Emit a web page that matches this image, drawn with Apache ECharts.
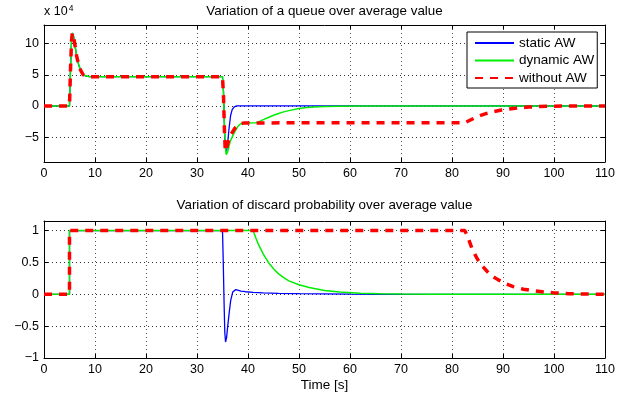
<!DOCTYPE html>
<html>
<head>
<meta charset="utf-8">
<script src="https://cdn.jsdelivr.net/npm/echarts@6/dist/echarts.min.js"></script>
<style>html,body{margin:0;padding:0;background:#fff}#c{width:639px;height:395px}</style>
</head>
<body>
<div id="c"></div>
<script>
// ---- tick labels / axis settings (data units) ----
const xTicks = [0,10,20,30,40,50,60,70,80,90,100,110];
const queueTicks = [-5, 0, 5, 10];          // x 10^4
const probTicks = [-1, -0.5, 0, 0.5, 1];
const seriesNames = ['static AW', 'dynamic AW', 'without AW'];

// ---- Queue variation (units of 10^4) ----
const qStaticT  = [0,5,5.2,5.4,5.55,5.8,6.1,6.4,6.8,7.2,7.7,8.3,9,35,35.2,35.35,35.5,35.65,35.85,36.05,36.3,36.6,36.9,37.3,37.8,110];
const qStaticV  = [0,0,6,10.5,11.7,11.2,9.6,8.0,6.6,5.7,5.0,4.8,4.7,4.7,2.2,-2.5,-6.2,-7.3,-6.9,-5.6,-3.5,-1.5,-0.6,-0.15,0,0];
const qDynamicT = [0,5,5.2,5.4,5.55,5.8,6.1,6.4,6.8,7.2,7.7,8.3,9,35,35.2,35.4,35.7,36.0,36.5,37.0,37.5,38.0,38.5,39.3,41.5,42,43,44,45,46,47,48,50,52,55,58,62,110];
const qDynamicV = [0,0,6,10.5,11.7,11.2,9.6,8.0,6.6,5.7,5.0,4.8,4.7,4.7,2.0,-4.0,-7.8,-7.4,-5.7,-4.8,-4.0,-3.3,-2.9,-2.72,-2.7,-2.6,-2.2,-1.85,-1.5,-1.2,-0.95,-0.75,-0.4,-0.22,-0.1,-0.04,0,0];
const qWithoutT = [0,5,5.2,5.4,5.55,5.8,6.1,6.4,6.8,7.2,7.7,8.3,9,35,35.2,35.4,35.55,35.8,36.2,36.7,37.5,38.3,39.3,82.5,83.5,84.5,85.5,86.8,88,89.7,91,93,95,97,100,104,110];
const qWithoutV = [0,0,6,10.5,11.7,11.2,9.6,8.0,6.6,5.7,5.0,4.8,4.7,4.7,1.5,-4.5,-7.3,-6.8,-5.5,-4.5,-3.5,-2.9,-2.72,-2.7,-2.3,-1.9,-1.55,-1.2,-0.95,-0.65,-0.5,-0.3,-0.18,-0.1,-0.04,0,0];

// ---- Discard probability variation ----
const pStaticT  = [0,5,5,35,35.15,35.3,35.45,35.6,35.8,36.0,36.3,36.6,37.0,37.3,37.6,38,38.6,39.5,41,43,46,50,55,60,66,110];
const pStaticV  = [0,0,1,1,0.5,-0.1,-0.6,-0.75,-0.68,-0.52,-0.3,-0.1,0.035,0.065,0.073,0.065,0.05,0.04,0.03,0.022,0.015,0.009,0.005,0.002,0,0];
const pDynamicT = [0,5,5,41,41.5,42,43,44,45,46,47,48,50,52,55,58,62,66,70,76,110];
const pDynamicV = [0,0,1,1,0.89,0.79,0.63,0.5,0.4,0.32,0.26,0.21,0.15,0.105,0.06,0.035,0.017,0.008,0.003,0,0];
const pWithoutT = [0,5,5,82.5,83,83.5,84,85,86,87,88,89,90,92,94,96,98,100,103,106,110];
const pWithoutV = [0,0,1,1,0.92,0.81,0.7,0.55,0.44,0.35,0.28,0.23,0.185,0.12,0.08,0.055,0.035,0.022,0.01,0.004,0];

const zip = (t, v) => t.map((x, i) => [x, v[i]]);
const FONT = 'Liberation Sans, Arial, Helvetica, sans-serif';
const minus = v => String(v).replace('-', '\u2212');

const styles = [
  { color: '#0000ff', width: 1.3, type: 'solid' },
  { color: '#00ee00', width: 1.5, type: 'solid' },
  { color: '#ff0000', width: 3.5, type: [8, 7] }
];

function mkSeries(data, idx, axisIdx) {
  return {
    type: 'line', name: seriesNames[idx], data: data,
    xAxisIndex: axisIdx, yAxisIndex: axisIdx,
    symbol: 'none', showSymbol: false, silent: true, z: 3 + idx,
    lineStyle: { color: styles[idx].color, width: styles[idx].width, type: styles[idx].type, cap: 'butt' },
    itemStyle: { color: styles[idx].color }
  };
}

function xAx(gridIndex, mirror) {
  return {
    type: 'value', gridIndex, min: 0, max: 110, interval: 10,
    position: mirror ? 'top' : 'bottom',
    axisLine: { show: true, onZero: false, lineStyle: { color: '#000', width: 1 } },
    axisTick: { show: true, inside: true, length: 4, lineStyle: { color: '#000' } },
    axisLabel: { show: !mirror, color: '#000', fontSize: 12.5, fontFamily: FONT, margin: 5 },
    splitLine: { show: !mirror, lineStyle: { color: '#555', width: 1, type: [1, 3] } }
  };
}
function yAx(gridIndex, mirror, min, max, ticks) {
  return {
    type: 'value', gridIndex, min, max,
    position: mirror ? 'right' : 'left',
    axisLine: { show: true, onZero: false, lineStyle: { color: '#000', width: 1 } },
    axisTick: { show: true, inside: true, length: 4, customValues: ticks, lineStyle: { color: '#000' } },
    axisLabel: { show: !mirror, customValues: ticks, color: '#000', fontSize: 12.5, fontFamily: FONT, margin: 5, formatter: minus },
    splitLine: { show: !mirror, lineStyle: { color: '#333', width: 1, type: [1, 3] } }
  };
}

const chart = echarts.init(document.getElementById('c'), null, { renderer: 'canvas' });
chart.setOption({
  animation: false,
  backgroundColor: '#fff',
  grid: [
    { left: 44, right: 34, top: 25, height: 137, show: true, backgroundColor: '#fff', borderWidth: 0 },
    { left: 44, right: 34, top: 221, height: 137, show: true, backgroundColor: '#fff', borderWidth: 0 }
  ],
  xAxis: [xAx(0, false), xAx(1, false), xAx(0, true), xAx(1, true)],
  yAxis: [
    yAx(0, false, -9, 13, queueTicks), yAx(1, false, -1, 1.15, probTicks),
    yAx(0, true, -9, 13, queueTicks), yAx(1, true, -1, 1.15, probTicks)
  ],
  legend: {
    data: seriesNames, orient: 'vertical', left: 467, top: 32,
    padding: [4, 3, 3, 7], itemWidth: 39, itemHeight: 13, itemGap: 3.5,
    backgroundColor: '#fff', borderColor: '#000', borderWidth: 1,
    itemStyle: { opacity: 0 },
    textStyle: { color: '#000', fontSize: 13.5, fontFamily: FONT }, z: 20
  },
  graphic: [
    { type: 'text', x: 324.5, y: 11, z: 10, style: { text: 'Variation of a queue over average value', fill: '#000', font: '13.4px ' + FONT, textAlign: 'center', textVerticalAlign: 'middle' } },
    { type: 'text', x: 324.5, y: 205, z: 10, style: { text: 'Variation of discard probability over average value', fill: '#000', font: '13.4px ' + FONT, textAlign: 'center', textVerticalAlign: 'middle' } },
    { type: 'text', x: 324.5, y: 385, z: 10, style: { text: 'Time [s]', fill: '#000', font: '13.5px ' + FONT, textAlign: 'center', textVerticalAlign: 'middle' } },
    { type: 'text', x: 44, y: 20, z: 10, style: { text: '{a|x 10}{b|4}', textVerticalAlign: 'bottom', rich: {
      a: { fill: '#000', fontSize: 12.5, fontFamily: FONT },
      b: { fill: '#000', fontSize: 8.5, fontFamily: FONT, verticalAlign: 'top', padding: [0, 0, 7, 1] } } } }
  ],
  series: [
    mkSeries(zip(qStaticT, qStaticV), 0, 0),
    mkSeries(zip(qDynamicT, qDynamicV), 1, 0),
    mkSeries(zip(qWithoutT, qWithoutV), 2, 0),
    mkSeries(zip(pStaticT, pStaticV), 0, 1),
    mkSeries(zip(pDynamicT, pDynamicV), 1, 1),
    mkSeries(zip(pWithoutT, pWithoutV), 2, 1)
  ]
});
</script>
</body>
</html>
